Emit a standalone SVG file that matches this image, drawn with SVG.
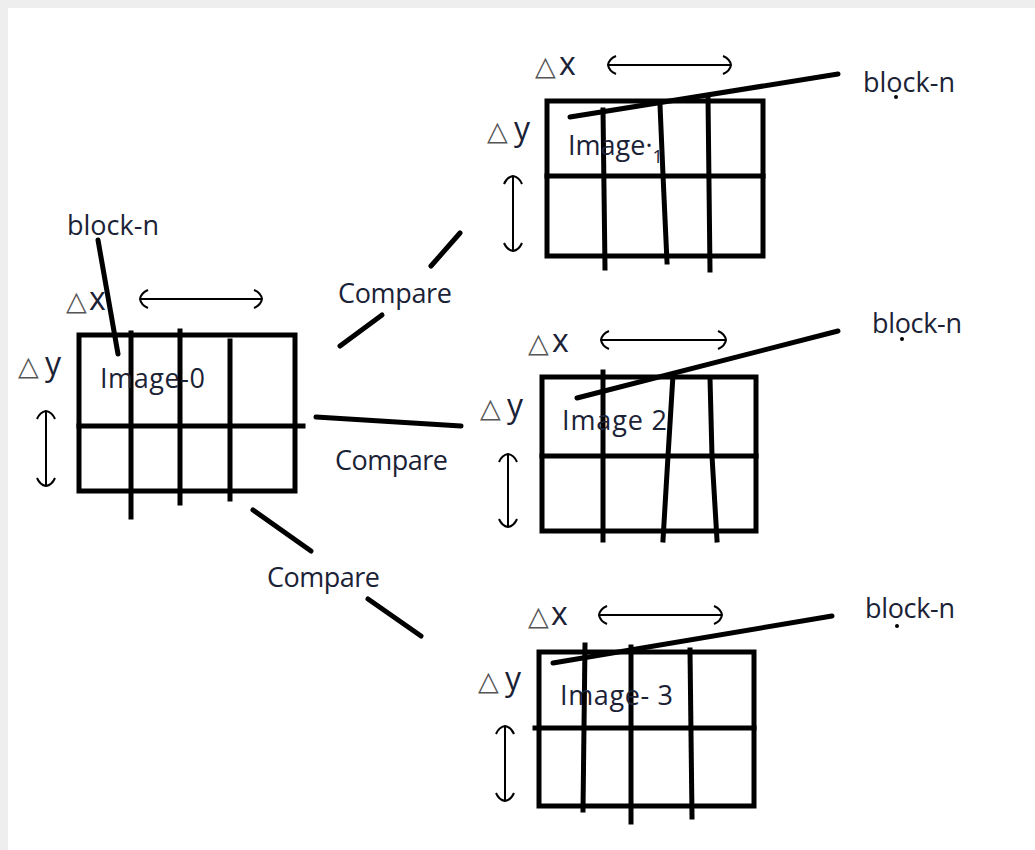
<svg xmlns="http://www.w3.org/2000/svg" width="1035" height="850" viewBox="0 0 1035 850">
<style>
.g{fill:none;stroke:#000;stroke-width:5;stroke-linecap:square}
.c{fill:none;stroke:#000;stroke-width:5;stroke-linecap:round}
.a{fill:none;stroke:#000;stroke-width:2;marker-start:url(#ah);marker-end:url(#ah)}
.t{font-family:"Open Sans","Noto Sans",sans-serif;font-size:27px;fill:#1b2236}
.xy{font-family:"Open Sans","Noto Sans",sans-serif;font-size:32px;fill:#1b2236}
.tri{font-family:"DejaVu Sans",sans-serif;font-size:27px;fill:#555}
</style>
<defs>
<marker id="ah" markerUnits="userSpaceOnUse" orient="auto-start-reverse" markerWidth="20" markerHeight="20" refX="0" refY="0" viewBox="-10 -10 20 20" overflow="visible">
<path d="M-8,-9 Q-1,-6 0,0 Q-1,6 -8,9" fill="none" stroke="#000" stroke-width="2"/>
</marker>
</defs>
<rect x="0" y="0" width="1035" height="850" fill="#eeeeee"/>
<rect x="8" y="8" width="1027" height="842" fill="#ffffff"/>

<g id="image0">
<rect class="g" x="79" y="335" width="216" height="156"/>
<line class="g" x1="79" y1="426" x2="303" y2="426"/>
<line class="g" x1="131" y1="333" x2="131" y2="517"/>
<line class="g" x1="180" y1="331" x2="180" y2="503"/>
<line class="g" x1="230" y1="341" x2="230" y2="499"/>
<line class="c" x1="98" y1="240" x2="118" y2="354"/>
<text class="t" x="67" y="235" textLength="92">block-n</text>
<text class="tri" x="66" y="310">△</text><text class="xy" x="89" y="310">x</text>
<line class="a" x1="140" y1="299" x2="262" y2="299"/>
<text class="tri" x="18" y="375">△</text><text class="xy" x="45" y="375">y</text>
<line class="a" x1="46" y1="411" x2="46" y2="486"/>
<text class="t" x="100" y="388" textLength="105">Image-0</text>
</g>

<g id="image1">
<rect class="g" x="547" y="101" width="216" height="155"/>
<line class="g" x1="547" y1="176" x2="763" y2="176"/>
<line class="g" x1="603" y1="110" x2="605" y2="268"/>
<polyline class="g" points="660,105 663,175 667,262"/>
<line class="g" x1="708" y1="97" x2="710" y2="270"/>
<line class="c" x1="570" y1="117" x2="838" y2="74"/>
<text class="t" x="863" y="92" textLength="92">block-n</text>
<circle cx="896" cy="97" r="2" fill="#000"/>
<text class="tri" x="535" y="75">△</text><text class="xy" x="559" y="75">x</text>
<line class="a" x1="608" y1="65" x2="731" y2="65"/>
<text class="tri" x="487" y="140">△</text><text class="xy" x="514" y="140">y</text>
<line class="a" x1="513" y1="176" x2="513" y2="251"/>
<text class="t" x="568" y="155">Image<tspan>·</tspan><tspan dy="8" font-size="18">1</tspan></text>
</g>

<g id="image2">
<rect class="g" x="542" y="377" width="214" height="154"/>
<line class="g" x1="542" y1="456" x2="756" y2="456"/>
<line class="g" x1="603" y1="372" x2="603" y2="540"/>
<polyline class="g" points="673,375 668,456 663,540"/>
<polyline class="g" points="710,378 712,456 717,540"/>
<line class="c" x1="577" y1="398" x2="838" y2="331"/>
<text class="t" x="872" y="333" textLength="90">block-n</text>
<circle cx="902" cy="339" r="2" fill="#000"/>
<text class="tri" x="528" y="352">△</text><text class="xy" x="552" y="352">x</text>
<line class="a" x1="601" y1="340" x2="726" y2="340"/>
<text class="tri" x="480" y="417">△</text><text class="xy" x="507" y="417">y</text>
<line class="a" x1="508" y1="454" x2="508" y2="527"/>
<text class="t" x="562" y="430" textLength="105">Image 2</text>
</g>

<g id="image3">
<rect class="g" x="539" y="652" width="215" height="154"/>
<line class="g" x1="535" y1="728" x2="754" y2="728"/>
<line class="g" x1="585" y1="645" x2="583" y2="810"/>
<line class="g" x1="631" y1="647" x2="631" y2="822"/>
<line class="g" x1="690" y1="650" x2="692" y2="817"/>
<line class="c" x1="553" y1="663" x2="832" y2="616"/>
<text class="t" x="865" y="618" textLength="90">block-n</text>
<circle cx="897" cy="626" r="2" fill="#000"/>
<text class="tri" x="528" y="625">△</text><text class="xy" x="551" y="625">x</text>
<line class="a" x1="599" y1="615" x2="722" y2="615"/>
<text class="tri" x="478" y="690">△</text><text class="xy" x="505" y="690">y</text>
<line class="a" x1="505" y1="726" x2="505" y2="801"/>
<text class="t" x="560" y="705" textLength="113">Image- 3</text>
</g>

<g id="connectors">
<line class="c" x1="340" y1="346" x2="382" y2="315"/>
<line class="c" x1="431" y1="266" x2="460" y2="233"/>
<line class="c" x1="316" y1="417" x2="461" y2="426"/>
<line class="c" x1="253" y1="510" x2="311" y2="551"/>
<line class="c" x1="368" y1="599" x2="421" y2="636"/>
<text class="t" x="338" y="303" textLength="114">Compare</text>
<text class="t" x="335" y="470" textLength="113">Compare</text>
<text class="t" x="267" y="587" textLength="113">Compare</text>
</g>
</svg>
